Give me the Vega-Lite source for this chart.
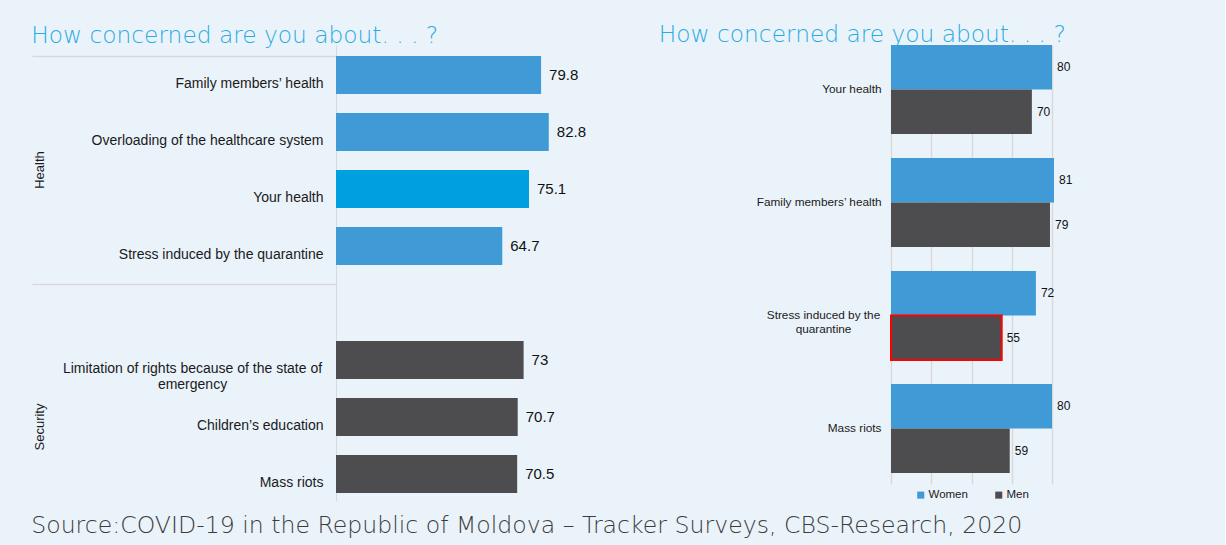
{
  "$schema": "https://vega.github.io/schema/vega-lite/v6.json",
  "background": "#EBF3FA",
  "padding": {"left": 31, "top": 22, "right": 152, "bottom": 8},
  "config": {
    "view": {"stroke": null},
    "font": "Liberation Sans",
    "legend": {"layout": {"bottom": {"anchor": "middle"}}}
  },
  "resolve": {"scale": {"color": "independent"}, "legend": {"color": "independent"}},
  "title": {
    "text": "Source:COVID-19 in the Republic of Moldova – Tracker Surveys, CBS-Research, 2020",
    "orient": "bottom",
    "anchor": "start",
    "frame": "bounds",
    "font": "DejaVu Sans",
    "fontWeight": 200,
    "fontSize": 23.6,
    "color": "#3C3C3C",
    "offset": 13
  },
  "datasets": {
    "left": [
      {"item": "Family members’ health", "group": "Health", "value": 79.8},
      {"item": "Overloading of the healthcare system", "group": "Health", "value": 82.8},
      {"item": "Your health", "group": "Health", "value": 75.1},
      {"item": "Stress induced by the quarantine", "group": "Health", "value": 64.7},
      {"item": "Limitation of rights because of the state of emergency", "group": "Security", "value": 73},
      {"item": "Children’s education", "group": "Security", "value": 70.7},
      {"item": "Mass riots", "group": "Security", "value": 70.5}
    ],
    "right": [
      {"item": "Your health", "sex": "Women", "value": 80},
      {"item": "Your health", "sex": "Men", "value": 70},
      {"item": "Family members’ health", "sex": "Women", "value": 81},
      {"item": "Family members’ health", "sex": "Men", "value": 79},
      {"item": "Stress induced by the quarantine", "sex": "Women", "value": 72},
      {"item": "Stress induced by the quarantine", "sex": "Men", "value": 55},
      {"item": "Mass riots", "sex": "Women", "value": 80},
      {"item": "Mass riots", "sex": "Men", "value": 59}
    ]
  },
  "spacing": 65,
  "hconcat": [
    {
      "width": 257,
      "height": 456,
      "title": {
        "text": "How concerned are you about. . . ?",
        "anchor": "start",
        "frame": "bounds",
        "font": "DejaVu Sans",
        "fontWeight": 200,
        "fontSize": 23.3,
        "color": "#29ABE2",
        "baseline": "alphabetic",
        "offset": -21
      },
      "data": {"name": "left"},
      "encoding": {
        "y": {
          "field": "item",
          "type": "nominal",
          "sort": null,
          "scale": {
            "domain": ["Family members’ health", "Overloading of the healthcare system", "Your health", "Stress induced by the quarantine", "", "Limitation of rights because of the state of emergency", "Children’s education", "Mass riots"],
            "paddingInner": 0.3333,
            "paddingOuter": 0.1667,
            "align": 0.579
          }
        },
        "x": {"field": "value", "type": "quantitative", "scale": {"domain": [0, 100], "nice": false}, "axis": null}
      },
      "resolve": {"axis": {"y": "independent"}},
      "layer": [
        {
          "mark": {"type": "bar", "clip": false},
          "encoding": {
            "y": {
              "field": "item",
              "type": "nominal",
              "sort": null,
              "axis": {
                "orient": "left",
                "title": null,
                "ticks": false,
                "domain": true,
                "domainColor": "#D9D9D9",
                "labelFont": "Liberation Sans",
                "labelFontSize": 14,
                "labelColor": "#1A1A1A",
                "labelPadding": {"condition": {"test": "datum.value === 'Limitation of rights because of the state of emergency'", "value": 144}, "value": 13},
                "labelAlign": {"condition": {"test": "datum.value === 'Limitation of rights because of the state of emergency'", "value": "center"}, "value": "right"},
                "labelOffset": 9,
                "labelLimit": 400,
                "labelLineHeight": 16,
                "labelExpr": "datum.value === 'Limitation of rights because of the state of emergency' ? ['Limitation of rights because of the state of', 'emergency'] : datum.label"
              }
            },
            "color": {
              "condition": {"test": "datum.item === 'Your health'", "value": "#009FDF"},
              "field": "group",
              "type": "nominal",
              "scale": {"domain": ["Health", "Security"], "range": ["#3F9AD6", "#4D4D4F"]},
              "legend": null
            }
          }
        },
        {
          "mark": {"type": "text", "align": "left", "baseline": "middle", "dx": 8, "fontSize": 15, "font": "Liberation Sans", "color": "#111111"},
          "encoding": {
            "y": {
              "field": "item",
              "type": "nominal",
              "sort": null,
              "axis": {
                "orient": "left",
                "title": null,
                "values": ["Family members’ health", ""],
                "bandPosition": 0,
                "domain": false,
                "ticks": true,
                "tickSize": 304,
                "tickColor": "#D9D9D9",
                "tickWidth": 1.5,
                "labels": true,
                "labelAngle": -90,
                "labelAlign": "center",
                "labelBaseline": "bottom",
                "labelPadding": -14,
                "labelFont": "Liberation Sans",
                "labelFontSize": 13,
                "labelColor": "#1A1A1A",
                "labelOffset": {"condition": {"test": "datum.value === ''", "value": 124}, "value": 95},
                "labelExpr": "datum.value === '' ? 'Security' : 'Health'"
              }
            },
            "text": {"field": "value", "type": "quantitative"}
          }
        }
      ]
    },
    {
      "width": 161,
      "height": 439,
      "title": {
        "text": "How concerned are you about. . . ?",
        "anchor": "start",
        "frame": "bounds",
        "font": "DejaVu Sans",
        "fontWeight": 200,
        "fontSize": 23.3,
        "color": "#29ABE2",
        "baseline": "alphabetic",
        "offset": -21,
        "dx": -97
      },
      "data": {"name": "right"},
      "encoding": {
        "y": {
          "field": "item",
          "type": "nominal",
          "sort": null,
          "scale": {
            "domain": ["Your health", "Family members’ health", "Stress induced by the quarantine", "Mass riots"],
            "paddingInner": 0.2124,
            "paddingOuter": 0.0487,
            "align": 0
          },
          "axis": {
            "title": null,
            "ticks": false,
            "domain": false,
            "labelFont": "Liberation Sans",
            "labelFontSize": 11.8,
            "labelColor": "#1A1A1A",
            "labelPadding": {"condition": {"test": "datum.value === 'Stress induced by the quarantine'", "value": 68}, "value": 10},
            "labelAlign": {"condition": {"test": "datum.value === 'Stress induced by the quarantine'", "value": "center"}, "value": "right"},
            "labelLineHeight": 14,
            "labelLimit": 300,
            "labelExpr": "datum.value === 'Stress induced by the quarantine' ? ['Stress induced by the', 'quarantine'] : datum.label"
          }
        },
        "yOffset": {"field": "sex", "type": "nominal", "sort": ["Women", "Men"], "scale": {"paddingInner": 0, "paddingOuter": 0}},
        "x": {
          "field": "value",
          "type": "quantitative",
          "scale": {"domain": [0, 80], "nice": false},
          "axis": {"values": [0, 20, 40, 60, 80], "grid": true, "gridColor": "#D9D9D9", "gridWidth": 1.5, "labels": false, "ticks": false, "domain": false, "title": null}
        }
      },
      "layer": [
        {
          "mark": {"type": "bar", "clip": false},
          "encoding": {
            "color": {
              "field": "sex",
              "type": "nominal",
              "scale": {"domain": ["Women", "Men"], "range": ["#3F9AD6", "#4D4D4F"]},
              "legend": {
                "orient": "bottom",
                "direction": "horizontal",
                "title": null,
                "symbolType": "square",
                "symbolSize": 50,
                "symbolStrokeWidth": 0,
                "labelFont": "Liberation Sans",
                "labelFontSize": 11.5,
                "labelColor": "#1A1A1A",
                "labelOffset": 2,
                "columnPadding": 25,
                "offset": 5,
                "padding": 0
              }
            },
            "stroke": {
              "condition": {"test": "datum.item === 'Stress induced by the quarantine' && datum.sex === 'Men'", "value": "#FF0000"},
              "value": "transparent"
            },
            "strokeWidth": {"value": 2}
          }
        },
        {
          "mark": {"type": "text", "align": "left", "baseline": "middle", "dx": 5, "fontSize": 12, "font": "Liberation Sans", "color": "#111111"},
          "encoding": {"text": {"field": "value", "type": "quantitative"}}
        }
      ]
    }
  ]
}
